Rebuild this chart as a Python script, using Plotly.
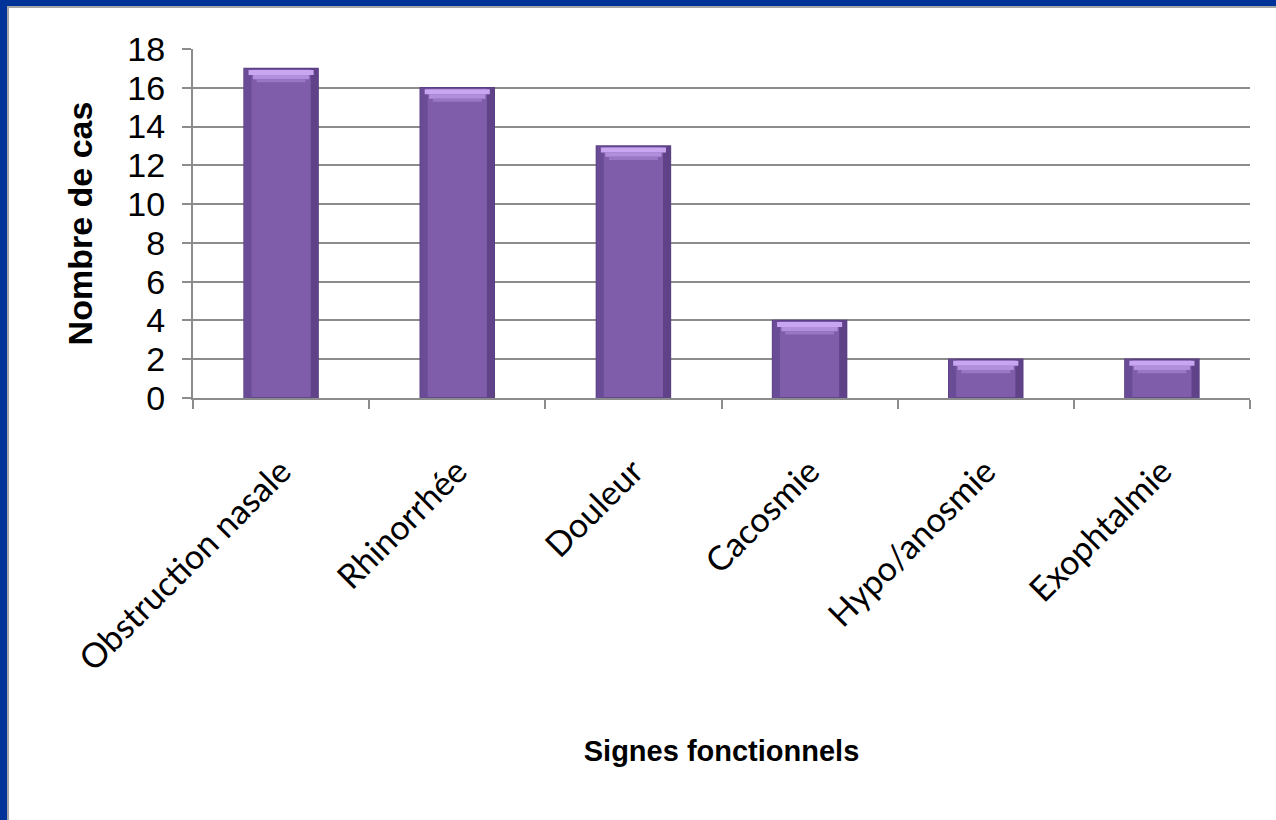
import plotly.graph_objects as go

# Signes fonctionnels et nombre de cas
categories = ["Obstruction nasale", "Rhinorrhée", "Douleur", "Cacosmie", "Hypo/anosmie", "Exophtalmie"]
cases = [17, 16, 13, 4, 2, 2]
y_ticks = [0, 2, 4, 6, 8, 10, 12, 14, 16, 18]

W, H = 1276, 820
L, R, T, B = 193, 26, 49, 422
plot_w = W - L - R
plot_h = H - T - B

BAR_W = 0.42
EDGE = 0.10  # fraction of the bar width used for the shaded side edges

fig = go.Figure()

# main bars
fig.add_trace(go.Bar(
    x=categories, y=cases, width=BAR_W,
    marker=dict(color="#7f5dab", line=dict(color="#5a3f82", width=1.5)),
    hoverinfo="x+y", showlegend=False,
))
# shaded side edges
for off, col in ((-BAR_W / 2, "#6a4b96"), (BAR_W / 2 - BAR_W * EDGE, "#5f4288")):
    fig.add_trace(go.Bar(
        x=categories, y=cases, width=BAR_W * EDGE, offset=off,
        marker=dict(color=col, line=dict(width=0)),
        hoverinfo="skip", showlegend=False,
    ))
# bevel highlight along the top of each bar (bands narrowing downward)
for thick, drop, frac, col in ((0.26, 0.08, 0.88, "#c9a6f0"),
                               (0.22, 0.34, 0.76, "#b28fdd"),
                               (0.16, 0.56, 0.66, "#9977c4")):
    fig.add_trace(go.Bar(
        x=categories, y=[thick] * len(cases), base=[v - drop - thick for v in cases],
        width=BAR_W * frac,
        marker=dict(color=col, line=dict(width=0)),
        hoverinfo="skip", showlegend=False,
    ))

fig.update_layout(
    width=W, height=H,
    margin=dict(l=L, r=R, t=T, b=B, pad=0),
    paper_bgcolor="white", plot_bgcolor="white",
    barmode="overlay",
    showlegend=False,
    font=dict(family="Liberation Sans, Arial, sans-serif", color="black"),
)

fig.update_xaxes(
    type="category",
    tickangle=-45,
    tickfont=dict(family="Lato, Carlito, Calibri, sans-serif", size=34, color="black"),
    ticklabelstandoff=38,
    showline=True, linecolor="#8c8c8c", linewidth=2,
    ticks="outside", ticklen=9, tickwidth=2, tickcolor="#8c8c8c",
    tickson="boundaries",
    showgrid=False,
    title=dict(text="<b>Signes fonctionnels</b>",
               font=dict(family="Liberation Sans, Arial, sans-serif", size=29, color="black"),
               standoff=64),
)

fig.update_yaxes(
    range=[0, 18],
    tickvals=y_ticks,
    tickfont=dict(family="Liberation Sans, Arial, sans-serif", size=34, color="black"),
    ticklabelstandoff=10,
    showline=True, linecolor="#8c8c8c", linewidth=2,
    ticks="outside", ticklen=9, tickwidth=2, tickcolor="#8c8c8c",
    showgrid=True, gridcolor="#8c8c8c", gridwidth=2,
    zeroline=False,
    title=dict(text="<b>Nombre de cas</b>",
               font=dict(family="Liberation Sans, Arial, sans-serif", size=34, color="black"),
               standoff=24),
)

# slide frame: blue band along the top and left edges with a thin grey inner rule
def px_x(px):
    return (px - L) / plot_w

def px_y(py):
    return 1 - (py - T) / plot_h

frame = [
    dict(x0=px_x(0), x1=px_x(W), y0=px_y(0), y1=px_y(6), color="#003399"),
    dict(x0=px_x(0), x1=px_x(7), y0=px_y(0), y1=px_y(H), color="#003399"),
    dict(x0=px_x(7), x1=px_x(W), y0=px_y(6), y1=px_y(8), color="#a6a6a6"),
    dict(x0=px_x(7), x1=px_x(9), y0=px_y(6), y1=px_y(H), color="#a6a6a6"),
]
for f in frame:
    fig.add_shape(type="rect", xref="paper", yref="paper",
                  x0=f["x0"], x1=f["x1"], y0=f["y0"], y1=f["y1"],
                  fillcolor=f["color"], line=dict(width=0), layer="above")

fig.write_html("out.html")
